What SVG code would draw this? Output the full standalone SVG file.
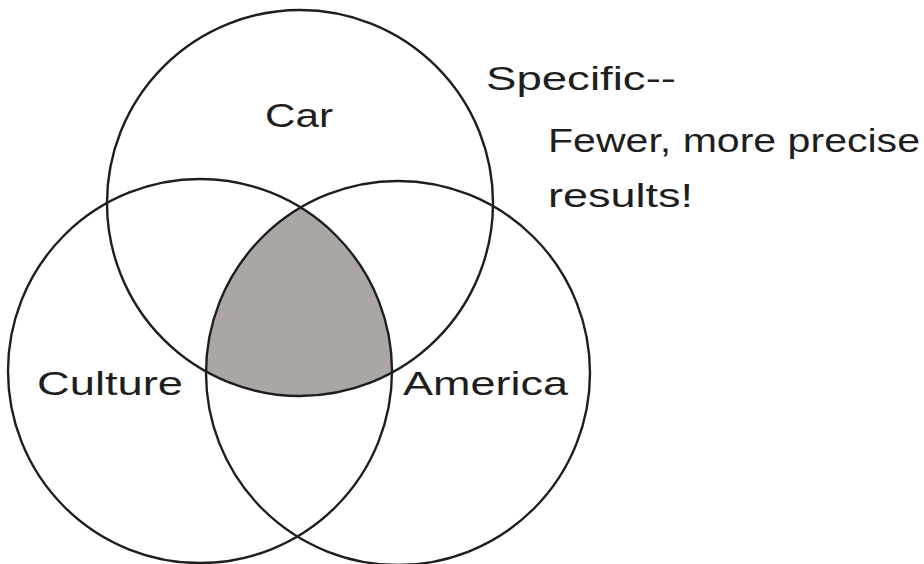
<svg xmlns="http://www.w3.org/2000/svg" width="924" height="564" viewBox="0 0 924 564">
<style>
.ring{fill:none;stroke:#1e1e1e;stroke-width:2.4}
.lbl{font-family:"Liberation Sans","DejaVu Sans",sans-serif;font-size:34px;fill:#1e1e1e}
</style>
<defs>
<clipPath id="cCulture"><circle cx="200" cy="371" r="192"/></clipPath>
<clipPath id="cAmerica"><circle cx="398" cy="373" r="192"/></clipPath>
</defs>
<rect width="924" height="564" fill="#ffffff"/>
<g id="overlap" clip-path="url(#cAmerica)">
<circle cx="300" cy="203" r="193" fill="#aba6a4" clip-path="url(#cCulture)"/>
</g>
<g id="car"><circle class="ring" cx="300" cy="203" r="193"/><text class="lbl" x="265" y="127" textLength="68" lengthAdjust="spacingAndGlyphs">Car</text></g>
<g id="culture"><circle class="ring" cx="200" cy="371" r="192"/><text class="lbl" x="37" y="395" textLength="146" lengthAdjust="spacingAndGlyphs">Culture</text></g>
<g id="america"><circle class="ring" cx="398" cy="373" r="192"/><text class="lbl" x="403" y="395" textLength="165" lengthAdjust="spacingAndGlyphs">America</text></g>
<g id="note">
<text class="lbl" x="486" y="90" textLength="190" lengthAdjust="spacingAndGlyphs">Specific--</text>
<text class="lbl" x="548" y="152" textLength="372" lengthAdjust="spacingAndGlyphs">Fewer, more precise</text>
<text class="lbl" x="548" y="207" textLength="145" lengthAdjust="spacingAndGlyphs">results!</text>
</g>
<g id="connectors"/>
</svg>
